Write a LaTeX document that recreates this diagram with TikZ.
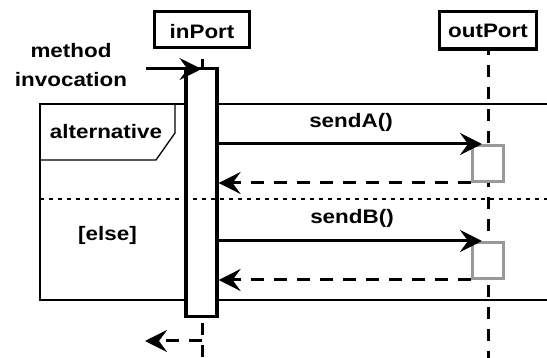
\documentclass[tikz,border=0pt]{standalone}
\usepackage{graphicx}
\usepackage{fontspec}
\setmainfont{Liberation Sans}
\usetikzlibrary{arrows.meta}
\newcommand{\hs}[1]{\scalebox{1.15}[1]{#1}}
\definecolor{execgray}{RGB}{153,153,153}
\begin{document}
\begin{tikzpicture}[x=1pt,y=-1pt,
  lbl/.style={font=\fontsize{19.5}{29}\selectfont\bfseries, inner sep=0pt},
  objbox/.style={draw, line width=3.3pt, fill=white, inner sep=0pt, font=\fontsize{19.5}{23}\selectfont\bfseries, text depth=0pt},
  actbar/.style={draw, line width=3.2pt, fill=white, inner sep=0pt},
  execbox/.style={draw=execgray, line width=3pt, fill=white, inner sep=0pt, minimum width=31pt, minimum height=36pt},
  lifeline/.style={line width=3pt, dash pattern=on 12pt off 10pt},
  msg/.style={line width=3pt, -{Stealth[length=22pt,width=22pt,inset=8pt]}},
  ret/.style={msg, dash pattern=on 13pt off 10pt},
  frameline/.style={line width=1.3pt},
  sepline/.style={line width=1.3pt, dash pattern=on 4pt off 5pt}]
\useasboundingbox (0,0) rectangle (547,358);
% frame
\draw[frameline] (547,104) -- (40,104) -- (40,300) -- (547,300);
\draw[frameline] (40,104) -| (175,133) -- (156,160) -- (40,160);
% objects
\node[objbox, minimum width=94.7pt, minimum height=35.7pt, text height=18pt] (inport) at (202,29.5) {\hs{inPort}};
\node[objbox, minimum width=96.7pt, minimum height=37.4pt, text height=14pt] (outport) at (488,30.35) {\hs{outPort}};
\coordinate (bottom) at (0,358);
% lifelines
\draw[lifeline, dash phase=12.35pt] (inport.south) -- (inport.south |- bottom);
\draw[lifeline, dash phase=8.05pt] (outport.south) -- (outport.south |- bottom);
% activation bar
\node[actbar, minimum width=31pt, minimum height=248pt] (act) at (201.5,192.5) {};
% separator
\draw[sepline] (40,199) -- (547,199);
% execution boxes
\node[execbox] (execA) at (488,163.5) {};
\node[execbox] (execB) at (488,260.5) {};
% messages
\coordinate (mstart) at (146,69);
\draw[msg] (mstart) -- (mstart -| act.north);
\draw[msg] (act.east |- execA.north) -- ([xshift=-6pt]execA.north);
\draw[ret] (execA.south west) -- (act.east |- execA.south west);
\draw[msg] (act.east |- execB.north) -- ([xshift=-6pt]execB.north);
\draw[ret] (execB.south west) -- (act.east |- execB.south west);
\coordinate (rend) at (145,341);
\draw[ret] (act.south |- rend) -- (rend);
% labels
\node[lbl, align=center] (meth) at (71,64.7) {\hs{method}\\\hs{invocation}};
\node[lbl, anchor=base] (alt) at (106,139) {\hs{alternative}};
\node[lbl, anchor=base] (else) at (107.5,241) {\hs{[else]}};
\node[lbl, anchor=base] (sa) at (351,128) {\hs{sendA()}};
\node[lbl, anchor=base] (sb) at (352,224) {\hs{sendB()}};
\end{tikzpicture}
\end{document}
